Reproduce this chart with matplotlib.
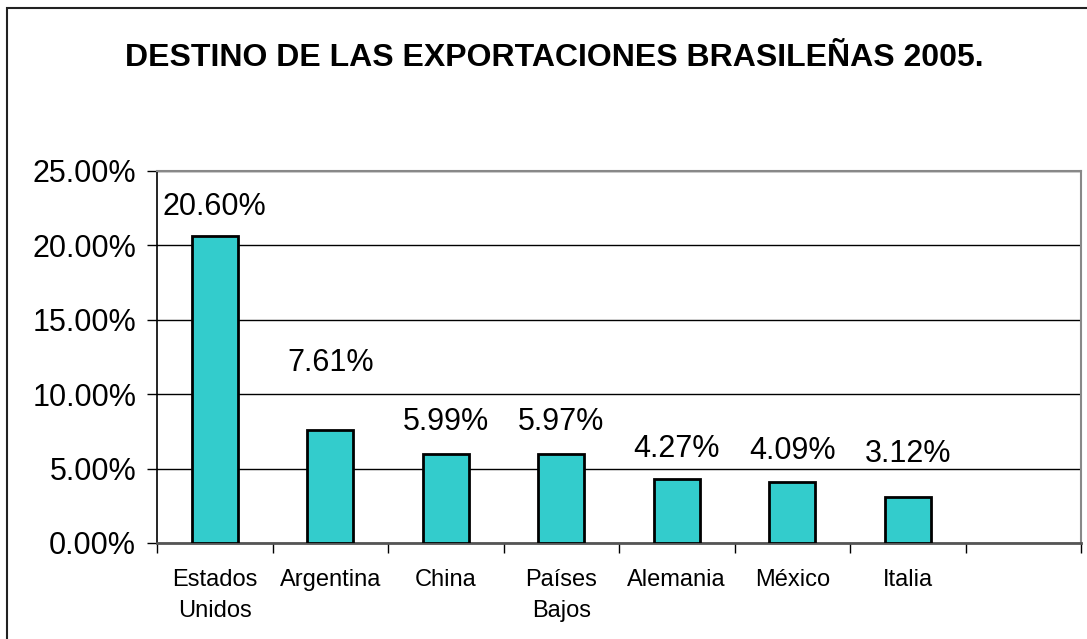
import matplotlib
matplotlib.use("Agg")
import matplotlib.pyplot as plt
from matplotlib.patches import Rectangle

plt.rcParams['font.family'] = ['Liberation Sans', 'DejaVu Sans']

title = "DESTINO DE LAS EXPORTACIONES BRASILEÑAS 2005."
categories = ["Estados\nUnidos", "Argentina", "China", "Países\nBajos",
              "Alemania", "México", "Italia", ""]
values = [20.60, 7.61, 5.99, 5.97, 4.27, 4.09, 3.12]
value_labels = ["20.60%", "7.61%", "5.99%", "5.97%", "4.27%", "4.09%", "3.12%"]
label_y = [22.6, 12.1, 8.1, 8.1, 6.35, 6.2, 5.95]
yticks = [0, 5, 10, 15, 20, 25]
ytick_labels = ["0.00%", "5.00%", "10.00%", "15.00%", "20.00%", "25.00%"]

W, H = 1087, 639
fig = plt.figure(figsize=(W / 100, H / 100), dpi=100)
fig.patch.set_facecolor("white")

# outer chart border (bottom and right edges lie outside the image)
fig.add_artist(Rectangle((7 / W, -0.2), 1.2, 1.2 - 8 / H,
                         transform=fig.transFigure, fill=False,
                         edgecolor="#222222", linewidth=1.5))

ax = fig.add_axes([157 / W, 1 - 543 / H, (1081 - 157) / W, (543 - 171) / H])
n = len(categories)
xs = list(range(len(values)))
ax.bar(xs, values, width=0.4, color="#33CCCC", edgecolor="black",
       linewidth=2, zorder=3)
for x, lab, ly in zip(xs, value_labels, label_y):
    ax.text(x, ly, lab, ha="center", va="center", fontsize=22, zorder=4)

ax.set_xlim(-0.5, n - 0.5)
ax.set_ylim(0, 25)
ax.set_yticks(yticks)
ax.set_yticklabels(ytick_labels, fontsize=22)
ax.yaxis.grid(True, color="black", linewidth=1.0, zorder=0)
ax.set_axisbelow(True)

# category tick marks at boundaries, labels at centers
ax.set_xticks([i - 0.5 for i in range(n + 1)])
ax.set_xticklabels([])
ax.set_xticks(list(range(n)), minor=True)
ax.set_xticklabels(categories, minor=True, fontsize=17, va="top",
                   linespacing=1.5)
ax.tick_params(axis="x", which="major", direction="out", length=7,
               width=1, color="black")
ax.tick_params(axis="x", which="minor", length=0, pad=19)
ax.tick_params(axis="y", direction="out", length=7, width=1, pad=8,
               color="black")

ax.spines["left"].set_color("black")
ax.spines["left"].set_linewidth(1.2)
ax.spines["bottom"].set_color("#555555")
ax.spines["bottom"].set_linewidth(2)
ax.spines["top"].set_color("#888888")
ax.spines["top"].set_linewidth(1.5)
ax.spines["right"].set_color("#888888")
ax.spines["right"].set_linewidth(1.5)

fig.text(554 / W, 1 - 58 / H, title, ha="center", va="center",
         fontsize=23, fontweight="bold")

fig.savefig("out.png", dpi=100)
